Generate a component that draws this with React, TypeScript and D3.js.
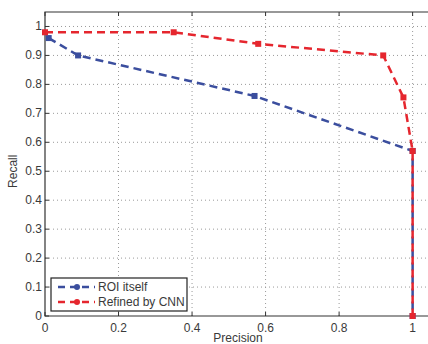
import React, { useEffect, useRef } from 'react';
import * as d3 from 'd3';

// values
const roiPrecision = [0.01, 0.09, 0.57, 1.0, 1.0];
const roiRecall = [0.96, 0.9, 0.76, 0.57, 0.0];
const cnnPrecision = [0.0, 0.35, 0.58, 0.92, 0.975, 1.0, 1.0];
const cnnRecall = [0.98, 0.98, 0.94, 0.9, 0.755, 0.57, 0.0];
const xTicks = [0, 0.2, 0.4, 0.6, 0.8, 1];
const yTicks = [0, 0.1, 0.2, 0.3, 0.4, 0.5, 0.6, 0.7, 0.8, 0.9, 1];
const seriesNames = ['ROI itself', 'Refined by CNN'];
const seriesColors = ['#3b4e9e', '#e5262e'];

const App = () => {
    const svgRef = useRef<SVGSVGElement>(null);

    useEffect(() => {
        const height = 344;
        const margin = { top: 12, left: 45, bottom: 28 };

        const svg = d3.select(svgRef.current);
        svg.selectAll('*').remove();

        const x = d3.scaleLinear().domain([0, 1.05]).range([margin.left, margin.left + 386]);
        const y = d3.scaleLinear().domain([0, 1.05]).range([height - margin.bottom, margin.top]);

        const font = 'Liberation Sans, Arial, sans-serif';
        const textColor = '#3a3a3a';

        // dotted grid
        const grid = svg.append('g').attr('stroke', '#9a9a9a').attr('stroke-width', 1).attr('stroke-dasharray', '1,3');
        grid.selectAll('.gx').data(xTicks.slice(1)).join('line')
            .attr('x1', d => x(d)).attr('x2', d => x(d))
            .attr('y1', y(0)).attr('y2', y(1.05));
        grid.selectAll('.gy').data(yTicks.slice(1)).join('line')
            .attr('x1', x(0)).attr('x2', x(1.05))
            .attr('y1', d => y(d)).attr('y2', d => y(d));

        // frame
        svg.append('path')
            .attr('d', `M${x(1.05)},${y(0)}H${x(0)}V${y(1.05)}H${x(1.05)}`)
            .attr('fill', 'none').attr('stroke', '#333').attr('stroke-width', 1.2);

        // inward tick marks
        const ticks = svg.append('g').attr('stroke', '#333').attr('stroke-width', 1);
        xTicks.forEach(t => {
            ticks.append('line').attr('x1', x(t)).attr('x2', x(t)).attr('y1', y(0)).attr('y2', y(0) - 4);
            ticks.append('line').attr('x1', x(t)).attr('x2', x(t)).attr('y1', y(1.05)).attr('y2', y(1.05) + 4);
        });
        yTicks.forEach(t => {
            ticks.append('line').attr('x1', x(0)).attr('x2', x(0) + 4).attr('y1', y(t)).attr('y2', y(t));
        });

        // tick labels
        svg.append('g').selectAll('text').data(xTicks).join('text')
            .attr('x', d => x(d)).attr('y', y(0) + 16)
            .attr('text-anchor', 'middle')
            .attr('font-family', font).attr('font-size', 12).attr('fill', textColor)
            .text(d => d3.format('~g')(d));
        svg.append('g').selectAll('text').data(yTicks).join('text')
            .attr('x', x(0) - 3).attr('y', d => y(d) + 4)
            .attr('text-anchor', 'end')
            .attr('font-family', font).attr('font-size', 12).attr('fill', textColor)
            .text(d => d3.format('~g')(d));

        // axis titles
        svg.append('text')
            .attr('x', 238).attr('y', 342)
            .attr('text-anchor', 'middle')
            .attr('font-family', font).attr('font-size', 12).attr('fill', textColor)
            .text('Precision');
        svg.append('text')
            .attr('transform', `translate(17,${y(0.5)}) rotate(-90)`)
            .attr('text-anchor', 'middle')
            .attr('font-family', font).attr('font-size', 12).attr('fill', textColor)
            .text('Recall');

        // series
        const series = [
            { px: roiPrecision, ry: roiRecall },
            { px: cnnPrecision, ry: cnnRecall },
        ];
        const line = d3.line<[number, number]>()
            .x(d => x(d[0]))
            .y(d => y(d[1]));

        series.forEach((s, i) => {
            const pts: [number, number][] = s.px.map((p, j) => [p, s.ry[j]]);
            const g = svg.append('g');
            g.append('path')
                .datum(pts)
                .attr('fill', 'none')
                .attr('stroke', seriesColors[i])
                .attr('stroke-width', 2.5)
                .attr('stroke-dasharray', '8,5')
                .attr('d', line);
            g.selectAll('rect').data(pts).join('rect')
                .attr('x', d => x(d[0]) - 3).attr('y', d => y(d[1]) - 3)
                .attr('width', 6).attr('height', 6)
                .attr('fill', seriesColors[i]);
        });

        // legend
        const legend = svg.append('g');
        legend.append('rect')
            .attr('x', 51).attr('y', 278).attr('width', 136).attr('height', 33)
            .attr('fill', '#fff').attr('stroke', '#222').attr('stroke-width', 1.2);
        seriesNames.forEach((name, i) => {
            const ly = 287 + i * 15;
            legend.append('line')
                .attr('x1', 58).attr('x2', 95).attr('y1', ly).attr('y2', ly)
                .attr('stroke', seriesColors[i]).attr('stroke-width', 2.5)
                .attr('stroke-dasharray', '7,5');
            legend.append('circle')
                .attr('cx', 77).attr('cy', ly).attr('r', 3)
                .attr('fill', seriesColors[i]);
            legend.append('text')
                .attr('x', 98).attr('y', ly + 4)
                .attr('font-family', font).attr('font-size', 12).attr('fill', textColor)
                .text(name);
        });
    }, []);

    return (
        <svg
            ref={svgRef}
            width={428}
            height={344}
            style={{ position: 'absolute', left: 0, top: 0, background: '#fff' }}
        ></svg>
    );
};

export default App;
